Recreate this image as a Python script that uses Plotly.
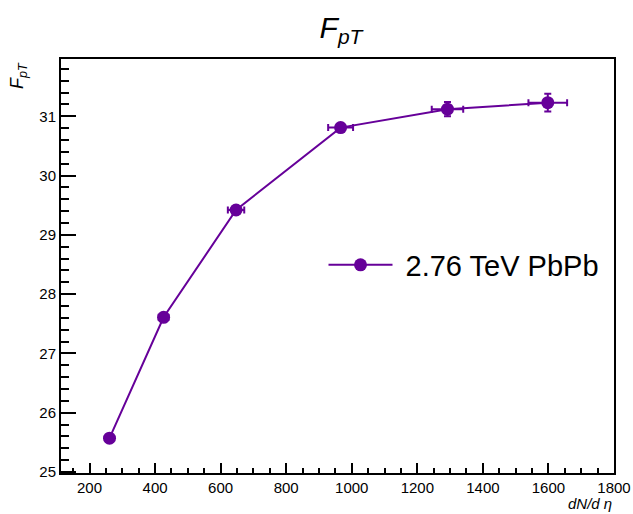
import plotly.graph_objects as go

# Data
dndeta = [261, 426, 647, 966, 1292, 1598]
fpt = [25.57, 27.61, 29.42, 30.81, 31.12, 31.23]
dndeta_err = [10, 15, 25, 38, 48, 59]
fpt_err = [0.02, 0.03, 0.03, 0.04, 0.12, 0.15]
series_name = "\u00a02.76 TeV PbPb"

color = "#660099"
font_family = "Liberation Sans, Arial, Helvetica, sans-serif"

fig = go.Figure()
fig.add_trace(go.Scatter(
    x=dndeta, y=fpt, name=series_name, mode="lines+markers",
    line=dict(color=color, width=2),
    marker=dict(color=color, size=13),
    error_x=dict(type="data", array=dndeta_err, color=color, thickness=2, width=3.5),
    error_y=dict(type="data", array=fpt_err, color=color, thickness=2, width=3.5),
))

fig.update_layout(
    width=633, height=514,
    margin=dict(l=61, r=19, t=59, b=41, autoexpand=False),
    paper_bgcolor="white", plot_bgcolor="white",
    font=dict(family=font_family, color="black", size=15),
    title=dict(text="<i>F</i><sub><i>pT</i></sub>", x=341/633, xanchor="center",
               y=1 - 27/514, yanchor="middle", font=dict(size=30)),
    showlegend=True,
    legend=dict(x=(323.5 - 61) / 553, y=1 - (265 - 59) / 414, xanchor="left", yanchor="middle",
                font=dict(size=29), bgcolor="rgba(0,0,0,0)", itemwidth=64),
    xaxis=dict(range=[113, 1800], showline=True, linecolor="black", linewidth=2, mirror=True,
               ticks="inside", ticklen=10, tickwidth=2, tickcolor="black", dtick=200, tick0=0,
               showgrid=False, zeroline=False, tickfont=dict(size=15),
               minor=dict(ticks="inside", ticklen=5, tickwidth=1.5, tickcolor="black", dtick=50, tick0=0, showgrid=False)),
    yaxis=dict(range=[24.983, 31.967], showline=True, linecolor="black", linewidth=2, mirror=True,
               ticks="inside", ticklen=15, tickwidth=2, tickcolor="black", dtick=1, tick0=0,
               showgrid=False, zeroline=False, tickfont=dict(size=15),
               minor=dict(ticks="inside", ticklen=8, tickwidth=1.5, tickcolor="black", dtick=0.2, tick0=0, showgrid=False)),
    annotations=[
        dict(text="<i>dN/d η</i>", xref="paper", yref="paper", x=1, y=-30/414,
             xanchor="right", yanchor="middle", showarrow=False, font=dict(size=15)),
        dict(text="<i>F</i><sub><i>pT</i></sub>", xref="paper", yref="paper", x=-42/553, y=1 - 17/414,
             xanchor="center", yanchor="middle", textangle=-90, showarrow=False, font=dict(size=18)),
    ],
)

fig.write_html("out.html", config={"displayModeBar": False},
               post_script="document.body.style.margin='0';document.body.style.padding='0';")
